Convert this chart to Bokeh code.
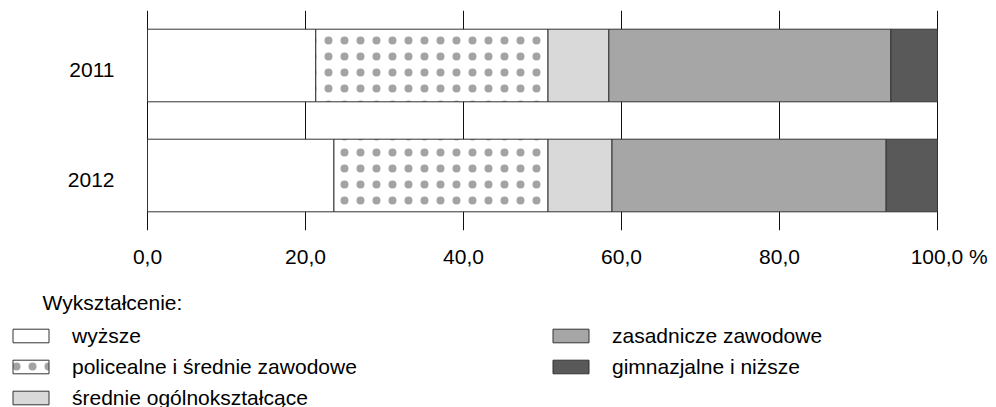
from bokeh.plotting import figure
from bokeh.models import (ColumnDataSource, Range1d, FactorRange, FixedTicker,
                          Legend, LegendItem, Label)
from bokeh.core.properties import value
from bokeh.layouts import column
from bokeh.embed import file_html
from bokeh.resources import INLINE

# ---- data ----
years = ["2011", "2012"]
categories = ["wyższe", "policealne i średnie zawodowe", "średnie ogólnokształcące",
              "zasadnicze zawodowe", "gimnazjalne i niższe"]
wyzsze = [21.3, 23.6]
policealne = [29.4, 27.1]
srednie_ogolne = [7.7, 8.1]
zasadnicze = [35.7, 34.7]
gimnazjalne = [5.9, 6.5]
x_ticks = [0, 20, 40, 60, 80, 100]
x_tick_labels = ["0,0", "20,0", "40,0", "60,0", "80,0", "100,0"]
unit_label = "%"
legend_title = "Wykształcenie:"

# ---- style / layout ----
colors = ["#ffffff", "#ffffff", "#d9d9d9", "#a6a6a6", "#595959"]
FONT = "Liberation Sans"
FS = "21px"
EDGE = "#333333"
W = 996
PLOT_L, PLOT_R = 147, 937          # pixel positions of 0 % and 100 %
PX_PER = (PLOT_R - PLOT_L) / 100.0

keys = ["wyzsze", "policealne", "srednie_ogolne", "zasadnicze", "gimnazjalne"]
source = ColumnDataSource(dict(year=years, wyzsze=wyzsze, policealne=policealne,
                               srednie_ogolne=srednie_ogolne, zasadnicze=zasadnicze,
                               gimnazjalne=gimnazjalne))

p = figure(y_range=FactorRange(factors=years[::-1]),
           x_range=Range1d(-PLOT_L / PX_PER, 100 + (W - PLOT_R) / PX_PER),
           width=W, height=270, output_backend="svg", toolbar_location=None,
           y_axis_location=None,
           min_border_left=0, min_border_right=0, min_border_top=10,
           min_border_bottom=40)

rs = p.hbar_stack(keys, y="year", height=0.66, source=source,
                  fill_color=colors, line_color=EDGE, line_width=1)


def style_hatch(glyph):
    glyph.hatch_pattern = "dot"
    glyph.hatch_scale = 16
    glyph.hatch_color = "#333333"
    glyph.hatch_alpha = 0.45
    glyph.hatch_weight = 0.3


style_hatch(rs[1].glyph)

# category labels, left of the 0 line
p.text(x=[0] * len(years), y=years, text=years, x_offset=-33, y_offset=4,
       text_align="right", text_baseline="middle", text_font=value(FONT),
       text_font_size=FS, text_color="#000000")

p.outline_line_color = None
p.ygrid.grid_line_color = None
p.xaxis.ticker = FixedTicker(ticks=x_ticks)
p.xgrid.ticker = FixedTicker(ticks=x_ticks)
p.xgrid.grid_line_color = "#111111"
p.xgrid.grid_line_width = 1
nb = "\u00a0"
overrides = {t: s for t, s in zip(x_ticks, x_tick_labels)}
overrides[x_ticks[-1]] = nb * 4 + x_tick_labels[-1] + nb + unit_label
p.xaxis.major_label_overrides = overrides
p.xaxis.axis_line_color = None
p.xaxis.major_tick_line_color = None
p.xaxis.minor_tick_line_color = None
p.xaxis.major_label_text_font = FONT
p.xaxis.major_label_text_font_size = FS
p.xaxis.major_label_text_color = "#000000"
p.xaxis.major_label_standoff = 8

# ---- legend figure ----
H2 = 137
q = figure(width=W, height=H2, x_range=Range1d(0, 1), y_range=Range1d(0, 1),
           output_backend="svg", toolbar_location=None,
           x_axis_location=None, y_axis_location=None,
           min_border_left=0, min_border_right=0, min_border_top=0, min_border_bottom=0)
q.outline_line_color = None
q.grid.visible = False

lsrc = ColumnDataSource(dict(y=[-10], left=[0], right=[0.1]))
lrs = []
for i, c in enumerate(colors):
    r = q.hbar(y="y", left="left", right="right", height=0.5, source=lsrc,
               fill_color=c, line_color=EDGE, line_width=1)
    if i == 1:
        style_hatch(r.glyph)
    lrs.append(r)

legend = Legend(items=[LegendItem(label=c, renderers=[r]) for c, r in zip(categories, lrs)],
                orientation="vertical", nrows=3, location=(8, -2.5),
                glyph_width=45, glyph_height=17, label_standoff=19, label_width=469,
                spacing=7, padding=0, margin=0, border_line_color=None,
                background_fill_alpha=0, label_text_font=FONT, label_text_font_size=FS,
                label_text_color="#000000", label_height=17)
q.add_layout(legend)
q.add_layout(Label(x=42, y=H2 - 32, x_units="screen", y_units="screen", text=legend_title,
                   text_align="left", text_baseline="alphabetic",
                   text_font=FONT, text_font_size=FS, text_color="#000000"))

layout = column(p, q)
open("out.html", "w").write(file_html(layout, INLINE))
